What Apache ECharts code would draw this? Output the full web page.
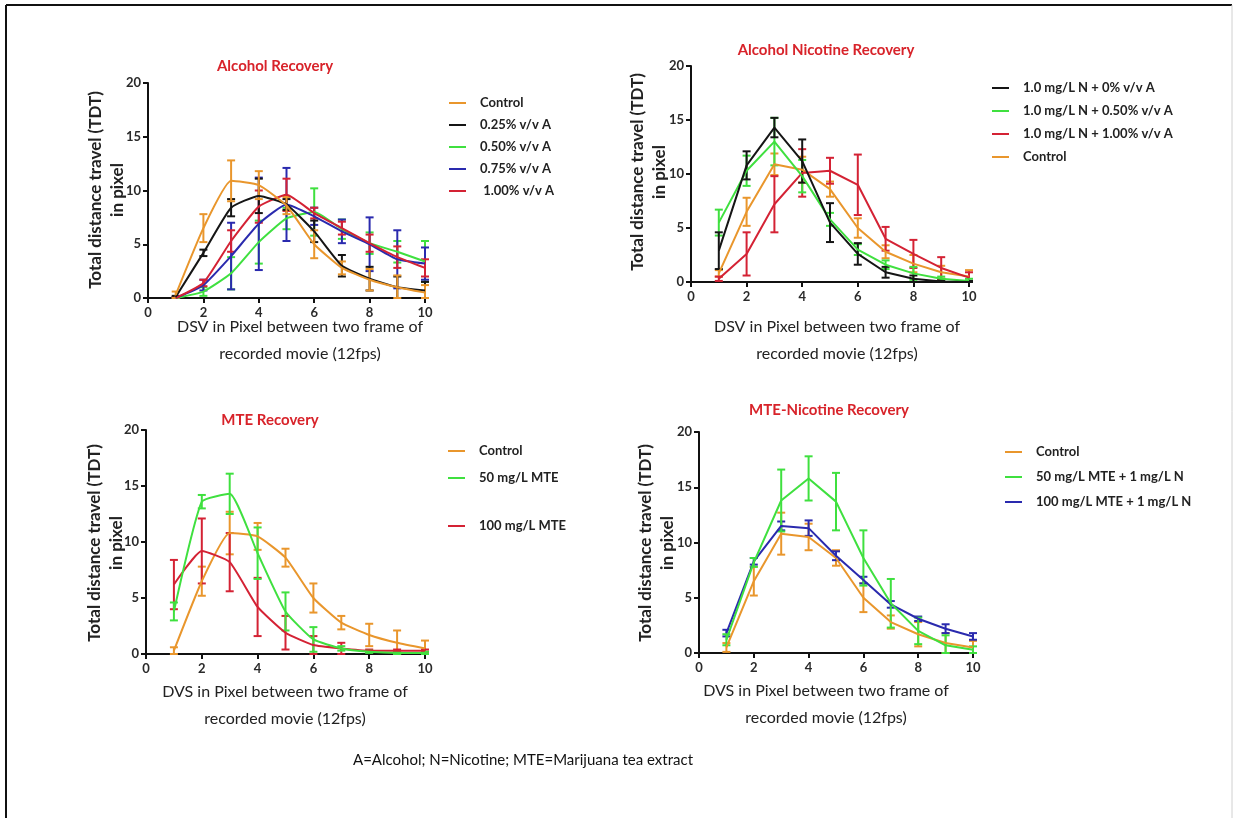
<!DOCTYPE html>
<html>
<head>
<meta charset="utf-8">
<script src="https://cdn.jsdelivr.net/npm/echarts@6/dist/echarts.min.js"></script>
<style>
html,body{margin:0;padding:0;background:#fff;}
#chart{width:1237px;height:818px;}
</style>
</head>
<body>
<div id="chart"></div>
<script>
// ---------- data ----------
const xValues = [1, 2, 3, 4, 5, 6, 7, 8, 9, 10];
const xTicks = [0, 2, 4, 6, 8, 10];
const yTicks = [0, 5, 10, 15, 20];

const panelTitles = ['Alcohol Recovery', 'Alcohol Nicotine Recovery', 'MTE Recovery', 'MTE-Nicotine Recovery'];
const yTitle = 'Total distance travel (TDT)\nin pixel';
const xTitleDSV = 'DSV in Pixel between two frame of\nrecorded movie (12fps)';
const xTitleDVS = 'DVS in Pixel between two frame of\nrecorded movie (12fps)';
const footnote = 'A=Alcohol; N=Nicotine; MTE=Marijuana tea extract';

// Panel 1: Alcohol Recovery
const p1Names = ['Control', '0.25% v/v A', '0.50% v/v A', '0.75% v/v A', ' 1.00% v/v A'];
const p1Control = [0.3, 6.5, 10.9, 10.5, 8.6, 5.0, 2.8, 1.7, 1.0, 0.5];
const p1ControlErr = [0.3, 1.3, 1.9, 1.3, 0.8, 1.3, 0.6, 1.0, 1.1, 0.7];
const p1A025 = [0.1, 4.2, 8.4, 9.5, 8.7, 6.2, 3.0, 1.8, 1.0, 0.7];
const p1A025Err = [0.1, 0.3, 0.8, 1.6, 0.5, 1.0, 1.0, 1.1, 1.0, 0.8];
const p1A050 = [0.0, 0.6, 2.3, 5.2, 7.4, 8.0, 6.4, 5.1, 4.3, 3.4];
const p1A050Err = [0.1, 0.4, 1.5, 2.0, 1.0, 2.2, 0.9, 1.0, 1.0, 1.9];
const p1A075 = [0.0, 1.2, 3.9, 6.9, 8.7, 7.6, 6.2, 5.0, 3.6, 3.2];
const p1A075Err = [0.1, 0.5, 3.1, 4.3, 3.4, 0.8, 1.1, 2.5, 2.7, 1.5];
const p1A100 = [0.0, 1.4, 5.3, 8.5, 9.6, 7.9, 6.5, 5.1, 3.8, 2.8];
const p1A100Err = [0.1, 0.3, 1.0, 1.5, 1.5, 0.5, 0.6, 0.8, 1.0, 0.8];

// Panel 2: Alcohol Nicotine Recovery
const p2Names = ['1.0 mg/L N + 0% v/v A', '1.0 mg/L N + 0.50% v/v A', '1.0 mg/L N + 1.00% v/v A', 'Control'];
const p2N0 = [2.9, 10.8, 14.3, 11.2, 5.5, 2.6, 0.9, 0.3, 0.05, 0.0];
const p2N0Err = [1.7, 1.3, 0.9, 2.0, 1.8, 1.0, 0.5, 0.3, 0.1, 0.1];
const p2N050 = [5.5, 10.3, 13.0, 9.8, 5.8, 3.0, 1.6, 0.8, 0.3, 0.1];
const p2N050Err = [1.2, 1.4, 2.2, 1.5, 0.6, 0.5, 0.4, 0.6, 0.2, 0.2];
const p2N100 = [0.3, 2.6, 7.2, 10.1, 10.3, 9.0, 4.0, 2.6, 1.3, 0.4];
const p2N100Err = [0.2, 2.0, 2.6, 2.2, 1.2, 2.8, 1.1, 1.3, 1.0, 0.5];
const p2Control = [0.8, 6.5, 10.9, 10.4, 8.6, 5.0, 2.8, 1.7, 0.9, 0.5];
const p2ControlErr = [0.3, 1.3, 1.0, 1.2, 0.7, 0.9, 0.6, 0.8, 0.6, 0.6];

// Panel 3: MTE Recovery
const p3Names = ['Control', '50 mg/L MTE', '100 mg/L MTE'];
const p3Control = [0.3, 6.5, 10.8, 10.5, 8.6, 5.0, 2.8, 1.7, 1.0, 0.5];
const p3ControlErr = [0.3, 1.3, 1.9, 1.2, 0.8, 1.3, 0.6, 1.0, 1.1, 0.7];
const p3M50 = [3.8, 13.6, 14.3, 9.0, 3.8, 1.3, 0.5, 0.2, 0.1, 0.1];
const p3M50Err = [0.8, 0.6, 1.8, 2.3, 1.7, 1.1, 0.2, 0.1, 0.1, 0.1];
const p3M100 = [6.2, 9.2, 8.2, 4.2, 1.9, 0.8, 0.5, 0.3, 0.3, 0.3];
const p3M100Err = [2.2, 2.9, 2.6, 2.6, 1.5, 0.8, 0.5, 0.1, 0.1, 0.1];

// Panel 4: MTE-Nicotine Recovery
const p4Names = ['Control', '50 mg/L MTE + 1 mg/L N', '100 mg/L MTE + 1 mg/L N'];
const p4Control = [0.5, 6.5, 10.8, 10.5, 8.6, 5.0, 2.8, 1.7, 0.9, 0.5];
const p4ControlErr = [0.4, 1.3, 1.9, 1.2, 0.7, 1.3, 0.6, 1.1, 0.9, 0.6];
const p4MN50 = [1.2, 8.2, 13.8, 15.8, 13.7, 8.6, 4.5, 2.0, 0.7, 0.3];
const p4MN50Err = [0.5, 0.4, 2.8, 2.0, 2.6, 2.5, 2.2, 1.2, 0.9, 0.3];
const p4MN100 = [1.8, 8.3, 11.5, 11.3, 8.8, 6.6, 4.4, 3.1, 2.2, 1.5];
const p4MN100Err = [0.3, 0.3, 0.4, 0.7, 0.4, 0.3, 0.3, 0.2, 0.4, 0.3];

// ---------- styles ----------
const C = {orange: '#E9962C', black: '#151515', green: '#3FE03F', blue: '#2A2AAE', red: '#D42234'};
const FONT = 'Lato, "Open Sans", "Liberation Sans", sans-serif';
const TITLE_RED = '#D8232A';

const grids = [
  {left: 148, top: 83, width: 277, height: 215},
  {left: 691, top: 66, width: 278, height: 216},
  {left: 146, top: 430, width: 279, height: 224},
  {left: 699, top: 432, width: 274, height: 221}
];

function axisX(i) {
  return {
    type: 'value', gridIndex: i, min: xTicks[0], max: xTicks[xTicks.length - 1], interval: 2,
    axisLine: {show: true, onZero: false, lineStyle: {color: '#111', width: 2}},
    axisTick: {show: true, inside: false, length: 5, lineStyle: {color: '#111', width: 2}},
    axisLabel: {color: '#2a2a2a', fontFamily: FONT, fontWeight: 'bold', fontSize: 13, margin: 8},
    splitLine: {show: false}
  };
}
function axisY(i) {
  return {
    type: 'value', gridIndex: i, min: yTicks[0], max: yTicks[yTicks.length - 1], interval: 5,
    axisLine: {show: true, lineStyle: {color: '#111', width: 2}},
    axisTick: {show: true, inside: false, length: 5, lineStyle: {color: '#111', width: 2}},
    axisLabel: {color: '#2a2a2a', fontFamily: FONT, fontWeight: 'bold', fontSize: 13, margin: 7},
    splitLine: {show: false}
  };
}

function lineSeries(i, name, vals, color, smooth) {
  return {
    type: 'line', name: name, xAxisIndex: i, yAxisIndex: i,
    data: xValues.map((x, k) => [x, vals[k]]),
    showSymbol: false, symbol: 'none', smooth: smooth ? 0.15 : false,
    lineStyle: {color: color, width: 2}, itemStyle: {color: color},
    z: 4, animation: false
  };
}
function errSeries(i, name, vals, errs, color) {
  return {
    type: 'custom', name: name + ' (SD)', xAxisIndex: i, yAxisIndex: i, silent: true, z: 3,
    animation: false,
    data: xValues.map((x, k) => [x, Math.max(0, vals[k] - errs[k]), vals[k] + errs[k]]),
    encode: {x: 0, y: [1, 2]},
    renderItem: function (params, api) {
      const lo = api.coord([api.value(0), api.value(1)]);
      const hi = api.coord([api.value(0), api.value(2)]);
      const w = 4;
      const st = {stroke: color, lineWidth: 2};
      return {type: 'group', children: [
        {type: 'line', shape: {x1: lo[0], y1: lo[1], x2: hi[0], y2: hi[1]}, style: st},
        {type: 'line', shape: {x1: lo[0] - w, y1: lo[1], x2: lo[0] + w, y2: lo[1]}, style: st},
        {type: 'line', shape: {x1: hi[0] - w, y1: hi[1], x2: hi[0] + w, y2: hi[1]}, style: st}
      ]};
    }
  };
}
function pair(i, name, vals, errs, color, smooth) {
  return [errSeries(i, name, vals, errs, color), lineSeries(i, name, vals, color, smooth)];
}

const series = [].concat(
  pair(0, p1Names[2], p1A050, p1A050Err, C.green, true),
  pair(0, p1Names[3], p1A075, p1A075Err, C.blue, true),
  pair(0, p1Names[4], p1A100, p1A100Err, C.red, true),
  pair(0, p1Names[1], p1A025, p1A025Err, C.black, true),
  pair(0, p1Names[0], p1Control, p1ControlErr, C.orange, true),

  pair(1, p2Names[3], p2Control, p2ControlErr, C.orange, false),
  pair(1, p2Names[2], p2N100, p2N100Err, C.red, false),
  pair(1, p2Names[1], p2N050, p2N050Err, C.green, false),
  pair(1, p2Names[0], p2N0, p2N0Err, C.black, false),

  pair(2, p3Names[0], p3Control, p3ControlErr, C.orange, true),
  pair(2, p3Names[2], p3M100, p3M100Err, C.red, true),
  pair(2, p3Names[1], p3M50, p3M50Err, C.green, true),

  pair(3, p4Names[0], p4Control, p4ControlErr, C.orange, false),
  pair(3, p4Names[2], p4MN100, p4MN100Err, C.blue, false),
  pair(3, p4Names[1], p4MN50, p4MN50Err, C.green, false)
);

function legend(names, left, top, gap) {
  return {
    orient: 'vertical', left: left, top: top, itemGap: gap,
    itemWidth: 17, itemHeight: 2, icon: 'rect', selectedMode: false,
    data: names,
    textStyle: {fontFamily: FONT, fontWeight: 'bold', fontSize: 13, color: '#222', lineHeight: 16, padding: [0, 0, 0, 9]}
  };
}

const titleStyle = {fontFamily: FONT, fontWeight: 'bold', fontSize: 15, fill: TITLE_RED};
const yTitleStyle = {fontFamily: FONT, fontWeight: 'bold', fontSize: 17, fill: '#222', lineHeight: 22};
const xTitleStyle = {fontFamily: FONT, fontWeight: 'normal', fontSize: 16, fill: '#222', lineHeight: 27};

function txt(x, y, text, st, rot) {
  return {type: 'text', x: x, y: y, rotation: rot || 0, silent: true,
    style: Object.assign({text: text, textAlign: 'center', textVerticalAlign: 'middle'}, st)};
}

const graphics = [
  {type: 'line', shape: {x1: 6, y1: 5, x2: 1232, y2: 5}, style: {stroke: '#111', lineWidth: 2}, silent: true},
  {type: 'line', shape: {x1: 6, y1: 5, x2: 6, y2: 818}, style: {stroke: '#111', lineWidth: 2}, silent: true},
  {type: 'line', shape: {x1: 1232, y1: 5, x2: 1232, y2: 818}, style: {stroke: '#d0d0d0', lineWidth: 1}, silent: true},

  txt(275, 66, panelTitles[0], titleStyle),
  txt(826, 50, panelTitles[1], titleStyle),
  txt(270, 420, panelTitles[2], titleStyle),
  txt(829, 410, panelTitles[3], titleStyle),

  txt(107, 190, yTitle, yTitleStyle, Math.PI / 2),
  txt(649, 172, yTitle, yTitleStyle, Math.PI / 2),
  txt(106, 543, yTitle, yTitleStyle, Math.PI / 2),
  txt(657, 543, yTitle, yTitleStyle, Math.PI / 2),

  txt(300, 340, xTitleDSV, xTitleStyle),
  txt(837, 340, xTitleDSV, xTitleStyle),
  txt(285, 705, xTitleDVS, xTitleStyle),
  txt(826, 704, xTitleDVS, xTitleStyle),

  txt(523, 760, footnote, {fontFamily: FONT, fontSize: 15, fill: '#111'})
];

const option = {
  backgroundColor: '#fff',
  animation: false,
  grid: grids,
  xAxis: [0, 1, 2, 3].map(axisX),
  yAxis: [0, 1, 2, 3].map(axisY),
  legend: [
    legend(p1Names, 444, 90, 6),
    legend(p2Names, 987, 75, 7),
    legend([p3Names[0], p3Names[1]], 443, 438, 11),
    legend([p3Names[2]], 443, 513, 6),
    legend(p4Names, 1000, 439, 9)
  ],
  graphic: graphics,
  series: series
};

const chart = echarts.init(document.getElementById('chart'), null, {renderer: 'canvas'});
chart.setOption(option);
</script>
</body>
</html>
